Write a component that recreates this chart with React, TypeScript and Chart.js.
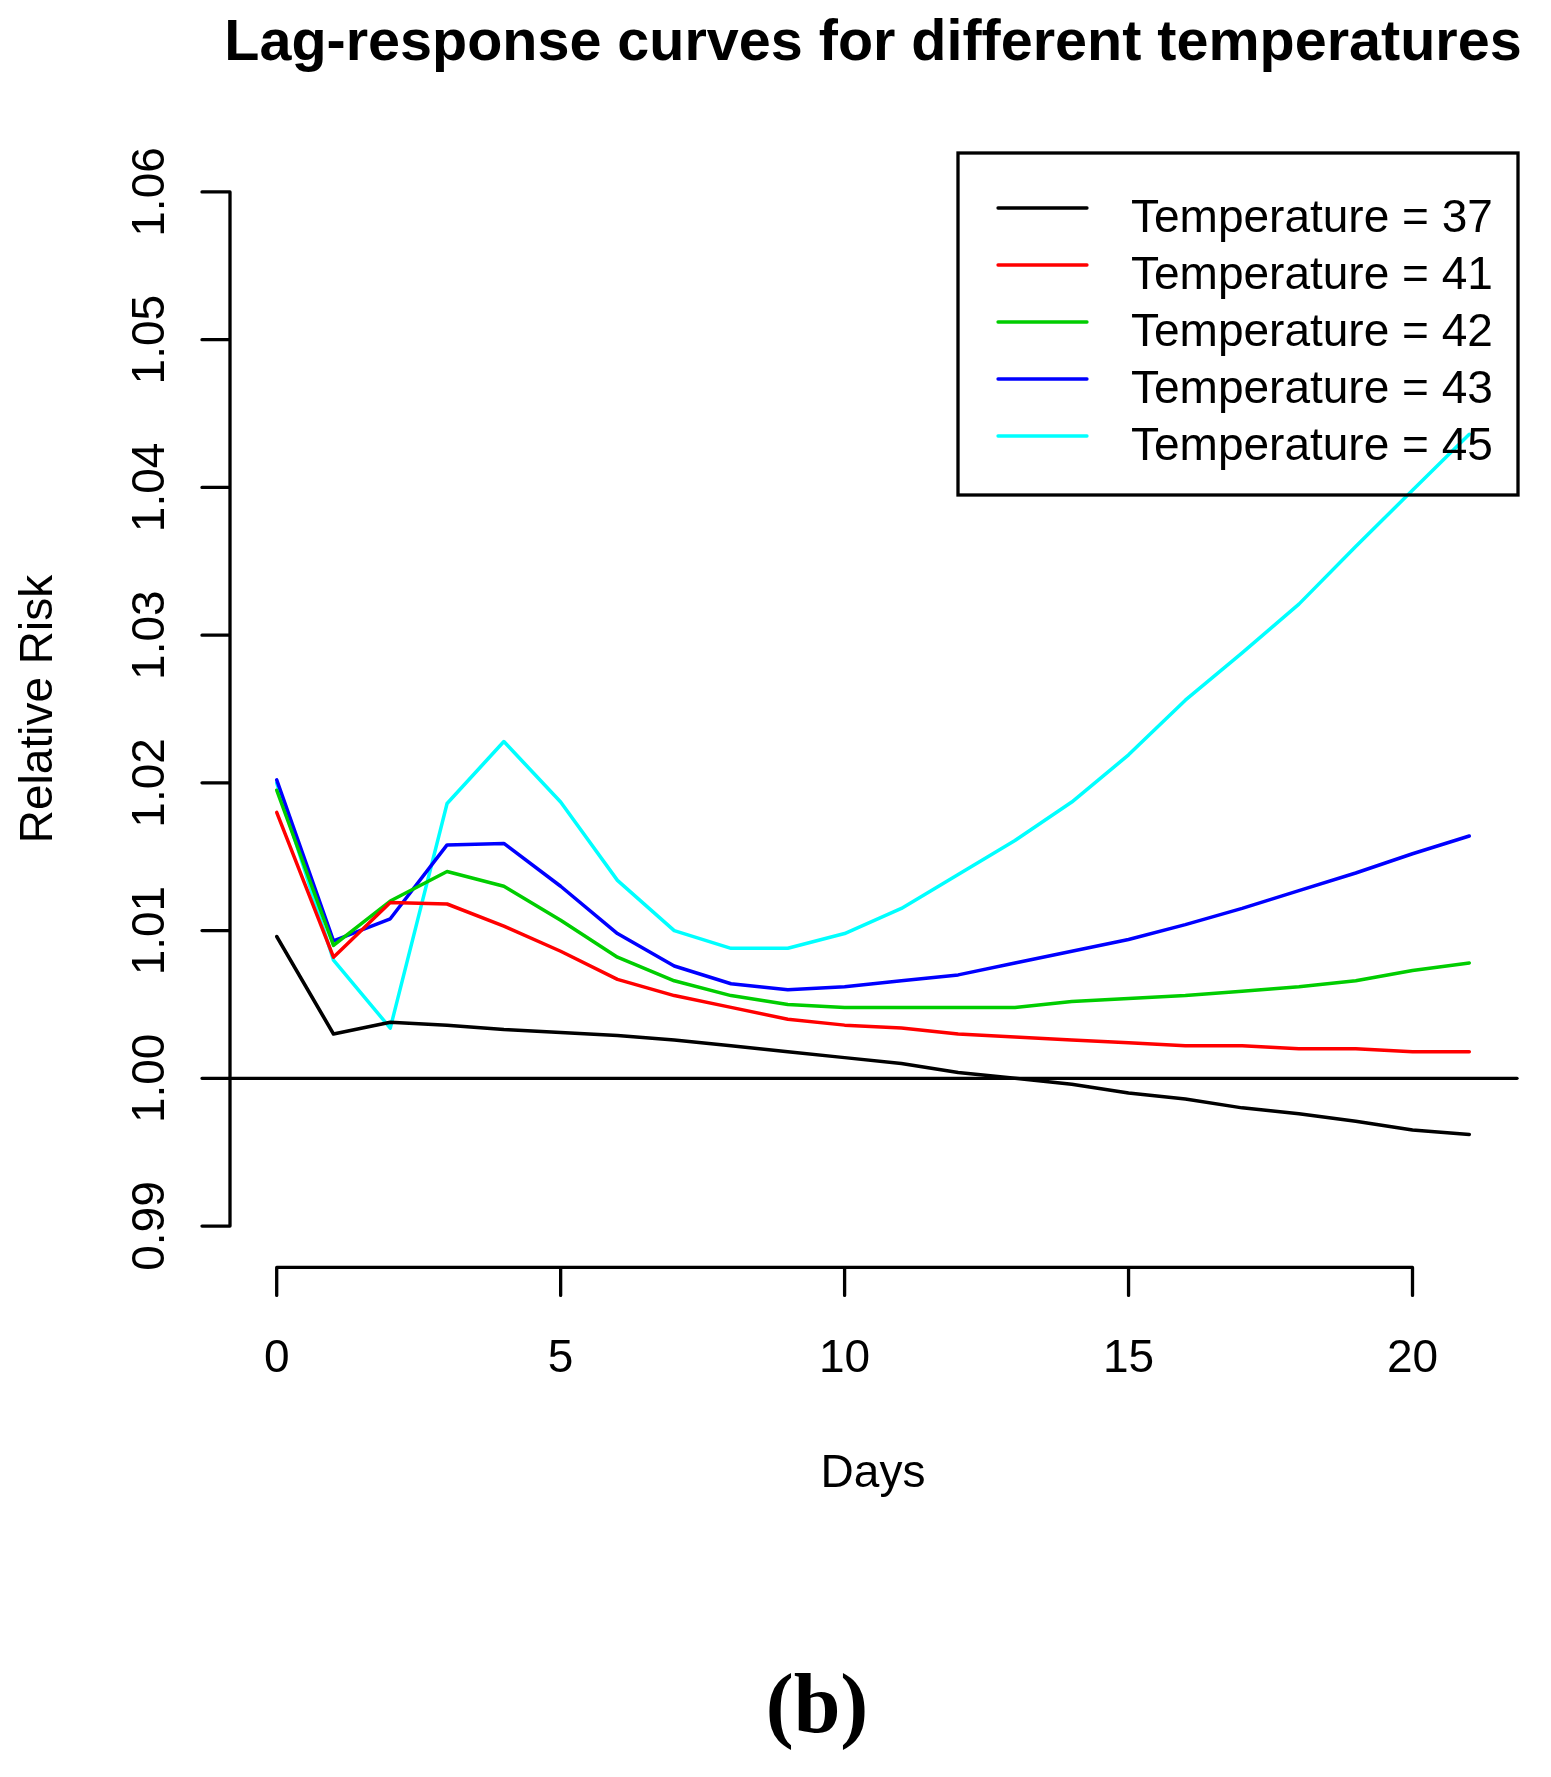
import { useEffect, useRef } from "react"
import { Chart, registerables } from "chart.js"

Chart.register(...registerables)

// Lag days (x axis)
const days = [0, 1, 2, 3, 4, 5, 6, 7, 8, 9, 10, 11, 12, 13, 14, 15, 16, 17, 18, 19, 20, 21]

// Relative risk per lag day
const temp37 = [1.0096, 1.003, 1.0038, 1.0036, 1.0033, 1.0031, 1.0029, 1.0026, 1.0022, 1.0018, 1.0014, 1.001, 1.0004, 1.0, 0.9996, 0.999, 0.9986, 0.998, 0.9976, 0.9971, 0.9965, 0.9962]
const temp41 = [1.018, 1.0082, 1.0119, 1.0118, 1.0103, 1.0086, 1.0067, 1.0056, 1.0048, 1.004, 1.0036, 1.0034, 1.003, 1.0028, 1.0026, 1.0024, 1.0022, 1.0022, 1.002, 1.002, 1.0018, 1.0018]
const temp42 = [1.0195, 1.009, 1.012, 1.014, 1.013, 1.0107, 1.0082, 1.0066, 1.0056, 1.005, 1.0048, 1.0048, 1.0048, 1.0048, 1.0052, 1.0054, 1.0056, 1.0059, 1.0062, 1.0066, 1.0073, 1.0078]
const temp43 = [1.0202, 1.0093, 1.0108, 1.0158, 1.0159, 1.013, 1.0098, 1.0076, 1.0064, 1.006, 1.0062, 1.0066, 1.007, 1.0078, 1.0086, 1.0094, 1.0104, 1.0115, 1.0127, 1.0139, 1.0152, 1.0164]
const temp45 = [1.02, 1.008, 1.0034, 1.0186, 1.0228, 1.0187, 1.0134, 1.01, 1.0088, 1.0088, 1.0098, 1.0115, 1.0138, 1.0161, 1.0187, 1.0219, 1.0256, 1.0288, 1.0321, 1.036, 1.0398, 1.0436]

const seriesLabels = ["Temperature = 37", "Temperature = 41", "Temperature = 42", "Temperature = 43", "Temperature = 45"]
const seriesColors = ["#000000", "#FF0000", "#00CD00", "#0000FF", "#00FFFF"]

// Axis ticks
const yTicks = [0.99, 1.0, 1.01, 1.02, 1.03, 1.04, 1.05, 1.06]
const xTicks = [0, 5, 10, 15, 20]

const SANS = '"Liberation Sans", Arial, sans-serif'

// draws the base-R style axes, titles, reference line and legend
const rStylePlugin = {
  id: "rStyle",
  afterDraw(chart: any) {
    const { ctx, chartArea } = chart
    const xs = chart.scales.x
    const ys = chart.scales.y
    const cx = (chartArea.left + chartArea.right) / 2
    const cy = (chartArea.top + chartArea.bottom) / 2

    ctx.save()
    ctx.strokeStyle = "#000"
    ctx.fillStyle = "#000"
    ctx.lineWidth = 3.3
    ctx.lineCap = "round"

    // abline(h = 1)
    const y1 = ys.getPixelForValue(1)
    ctx.beginPath()
    ctx.moveTo(chartArea.left, y1)
    ctx.lineTo(chartArea.right, y1)
    ctx.stroke()

    // y axis
    const axX = chartArea.left + 1
    ctx.beginPath()
    ctx.moveTo(axX, ys.getPixelForValue(yTicks[0]))
    ctx.lineTo(axX, ys.getPixelForValue(yTicks[yTicks.length - 1]))
    yTicks.forEach((t) => {
      const py = ys.getPixelForValue(t)
      ctx.moveTo(axX, py)
      ctx.lineTo(axX - 28, py)
    })
    ctx.stroke()
    ctx.font = `46px ${SANS}`
    ctx.textAlign = "center"
    ctx.textBaseline = "alphabetic"
    yTicks.forEach((t) => {
      ctx.save()
      ctx.translate(164, ys.getPixelForValue(t))
      ctx.rotate(-Math.PI / 2)
      ctx.fillText(t.toFixed(2), 0, 0)
      ctx.restore()
    })

    // x axis
    const axY = chartArea.bottom
    ctx.beginPath()
    ctx.moveTo(xs.getPixelForValue(xTicks[0]), axY)
    ctx.lineTo(xs.getPixelForValue(xTicks[xTicks.length - 1]), axY)
    xTicks.forEach((t) => {
      const px = xs.getPixelForValue(t)
      ctx.moveTo(px, axY)
      ctx.lineTo(px, axY + 28)
    })
    ctx.stroke()
    xTicks.forEach((t) => {
      ctx.fillText(String(t), xs.getPixelForValue(t), 1372)
    })

    // axis titles
    ctx.fillText("Days", cx, 1487)
    ctx.save()
    ctx.translate(52, cy)
    ctx.rotate(-Math.PI / 2)
    ctx.fillText("Relative Risk", 0, 0)
    ctx.restore()

    // main title
    ctx.font = `bold 57.5px ${SANS}`
    ctx.fillText("Lag-response curves for different temperatures", cx, 60)

    // panel label
    ctx.font = 'bold 84px "Liberation Serif", "Times New Roman", serif'
    ctx.fillText("(b)", 817, 1732)

    // legend
    ctx.lineCap = "butt"
    ctx.strokeRect(958, 153, 560, 342)
    ctx.font = `46px ${SANS}`
    ctx.textAlign = "left"
    ctx.lineCap = "round"
    chart.data.datasets.forEach((ds: any, i: number) => {
      const ly = 208 + i * 57
      ctx.strokeStyle = ds.borderColor
      ctx.beginPath()
      ctx.moveTo(998, ly)
      ctx.lineTo(1087, ly)
      ctx.stroke()
      ctx.fillText(ds.label, 1131, ly + 24)
    })

    ctx.restore()
  },
}

export default function App() {
  const chartRef = useRef<HTMLCanvasElement>(null)
  const chartInstance = useRef<Chart | null>(null)

  useEffect(() => {
    document.body.style.margin = "0"
    if (!chartRef.current) return

    if (chartInstance.current) {
      chartInstance.current.destroy()
    }

    const ctx = chartRef.current.getContext("2d")
    if (!ctx) return

    const allSeries = [temp37, temp41, temp42, temp43, temp45]

    chartInstance.current = new Chart(ctx, {
      type: "line",
      data: {
        datasets: allSeries.map((values, i) => ({
          label: seriesLabels[i],
          data: days.map((d, j) => ({ x: d, y: values[j] })),
          borderColor: seriesColors[i],
          backgroundColor: seriesColors[i],
          borderWidth: 3.5,
          borderCapStyle: "round" as const,
          borderJoinStyle: "round" as const,
          pointRadius: 0,
          tension: 0,
        })),
      },
      options: {
        responsive: false,
        animation: false,
        devicePixelRatio: 1,
        layout: {
          padding: { left: 229, right: 34, top: 150.6, bottom: 509.6 },
        },
        scales: {
          x: { type: "linear", min: -0.84, max: 21.84, display: false },
          y: { type: "linear", min: 0.9872, max: 1.0628, display: false },
        },
        plugins: {
          legend: { display: false },
          title: { display: false },
          tooltip: { enabled: false },
        },
      },
      plugins: [rStylePlugin],
    })

    return () => {
      if (chartInstance.current) {
        chartInstance.current.destroy()
        chartInstance.current = null
      }
    }
  }, [])

  return (
    <div style={{ width: 1551, height: 1777, background: "#fff" }}>
      <canvas ref={chartRef} width={1551} height={1777} style={{ display: "block" }}></canvas>
    </div>
  )
}
